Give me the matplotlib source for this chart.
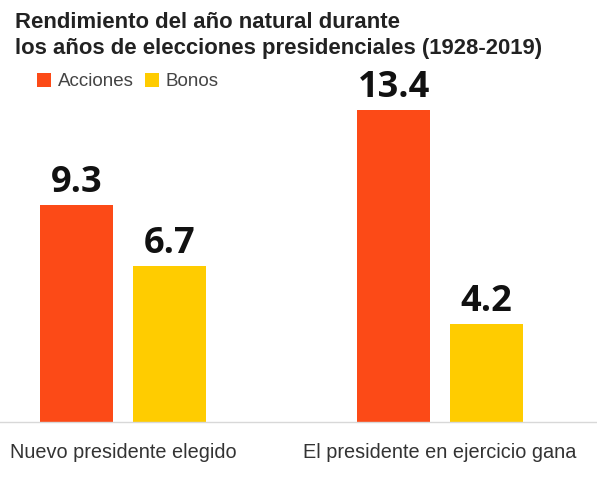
import matplotlib.pyplot as plt

categories = ["Nuevo presidente elegido", "El presidente en ejercicio gana"]
series_names = ["Acciones", "Bonos"]
acciones = [9.3, 13.4]
bonos = [6.7, 4.2]

title = "Rendimiento del año natural durante\nlos años de elecciones presidenciales (1928-2019)"

orange = "#FC4A17"
yellow = "#FFCC00"

fig = plt.figure(figsize=(5.97, 4.79), dpi=100)
# axes in figure fraction: baseline at pixel y=422
ax = fig.add_axes([0, 1 - 422 / 479, 1, (422 - 40) / 479])
ax.set_xlim(-0.388, 1.495)
ax.set_ylim(0, (422 - 40) / 23.3)

x = list(range(len(categories)))
w = 0.23
off = 0.146
b1 = ax.bar([i - off for i in x], acciones, width=w, color=orange)
b2 = ax.bar([i + off for i in x], bonos, width=w, color=yellow)

for bars, vals in [(b1, acciones), (b2, bonos)]:
    for r, v in zip(bars, vals):
        ax.annotate(f"{v:.1f}", (r.get_x() + r.get_width() / 2, v),
                    xytext=(0, 3), textcoords="offset points",
                    ha="center", va="bottom", fontsize=26, fontweight="bold",
                    family="Open Sans", color="#111111")

for s in ["top", "right", "left"]:
    ax.spines[s].set_visible(False)
ax.spines["bottom"].set_color("#d8d8d8")
ax.spines["bottom"].set_linewidth(1)
ax.set_yticks([])
ax.set_xticks(x)
ax.set_xticklabels(categories, fontsize=14.3, color="#333333", family="Liberation Sans")
ax.tick_params(axis="x", length=0, pad=15)

fig.text(15 / 597, 1 - 12 / 479, title, ha="left", va="top", fontsize=15.9,
         fontweight="bold", family="Liberation Sans", color="#222222", linespacing=1.3)

leg = ax.legend([b1, b2], series_names, loc="upper left", bbox_to_anchor=(20 / 597, 1 - 56 / 479),
                bbox_transform=fig.transFigure, ncol=2, frameon=False,
                handlelength=0.75, handleheight=0.75, handletextpad=0.35, columnspacing=0.6,
                prop={"family": "Liberation Sans", "size": 13.5})
for t in leg.get_texts():
    t.set_color("#444444")

fig.savefig("out.png", dpi=100)
